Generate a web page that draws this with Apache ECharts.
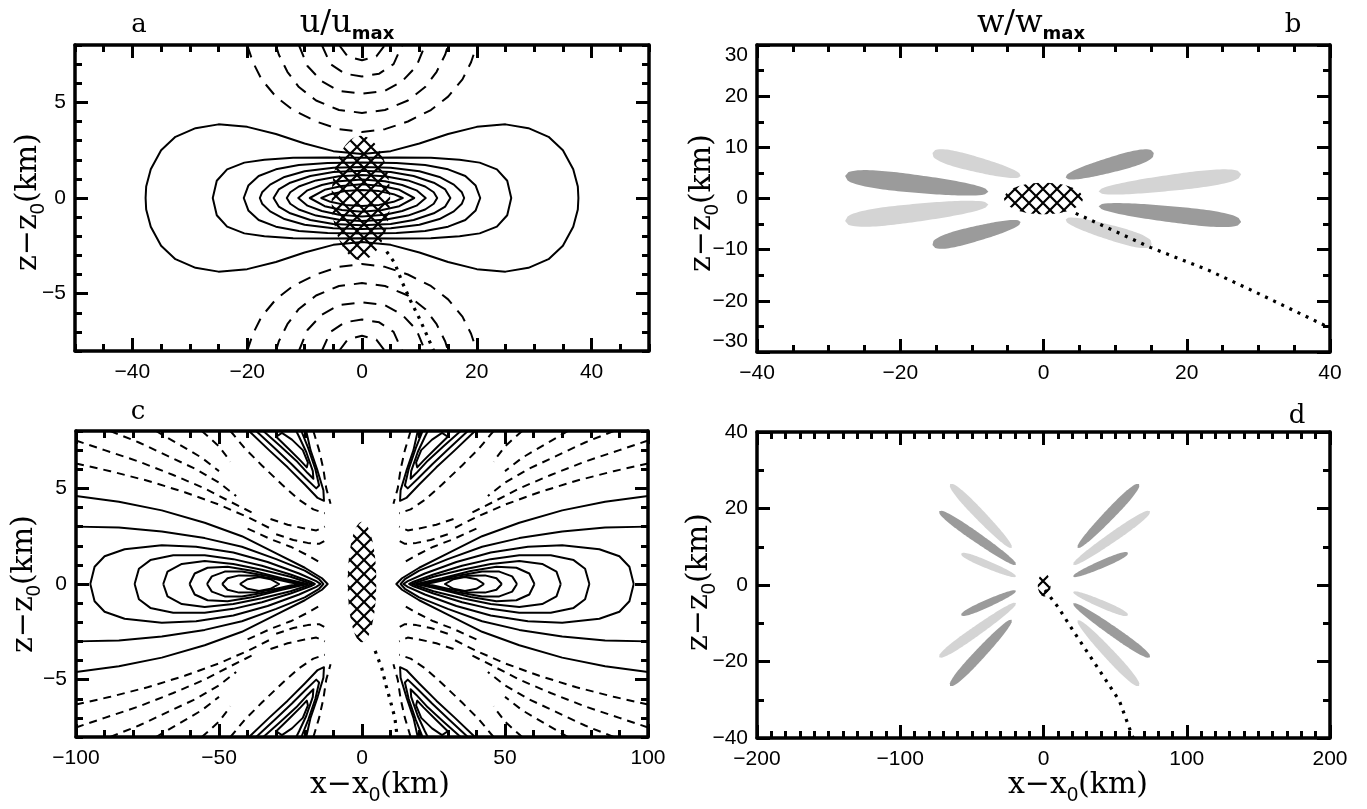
<!DOCTYPE html>
<html><head><meta charset="utf-8">
<script src="https://cdn.jsdelivr.net/npm/echarts@6/dist/echarts.min.js"></script>
<style>html,body{margin:0;padding:0;background:#fff}#c{width:1367px;height:809px}</style>
</head><body><div id="c"></div>
<script>
// ================= DATA =================
// tick values
const A_X_TICKS = [-40,-20,0,20,40];
const A_Y_TICKS = [-5,0,5];
const B_X_TICKS = [-40,-20,0,20,40];
const B_Y_TICKS = [-30,-20,-10,0,10,20,30];
const C_X_TICKS = [-100,-50,0,50,100];
const C_Y_TICKS = [-5,0,5];
const D_X_TICKS = [-200,-100,0,100,200];
const D_Y_TICKS = [-40,-20,0,20,40];

// panel a: positive contours (upper-right quadrant, x km, z km), symmetric
const A_POS = [
 [[0,2.3],[5,2.45],[10,2.85],[15,3.35],[20,3.72],[25,3.85],[29,3.65],[32.5,3.2],[35,2.5],[36.8,1.5],[37.6,0.6],[37.7,0]],
 [[0,2.1],[6,2.12],[12,2.1],[17,2.0],[20.5,1.85],[23.5,1.5],[25.3,0.9],[26,0]],
 [[0,1.85],[6,1.83],[11,1.72],[15,1.5],[18,1.15],[19.8,0.65],[20.6,0]],
 [[0,1.62],[5,1.58],[10,1.4],[13.5,1.1],[16,0.7],[17.4,0.3],[17.8,0]],
 [[0,1.42],[5,1.36],[9,1.15],[12.5,0.8],[14.5,0.45],[15.4,0]],
 [[0,1.2],[4,1.14],[8,0.92],[11,0.6],[12.5,0.3],[13.1,0]],
 [[0,0.97],[4,0.88],[7,0.68],[9.5,0.4],[11.1,0]],
 [[0,0.72],[3.5,0.63],[6.5,0.43],[9.1,0]],
 [[0,0.42],[3,0.36],[5.5,0.2],[7.1,0]]
];
// panel a: negative contours (right arm of upper U, mirrored)
const A_NEG = [
 [[0,3.45],[4,3.6],[8,4.0],[12,4.6],[15,5.3],[17.5,6.2],[19,7.1],[20,8]],
 [[0,4.45],[4,4.6],[8,5.1],[11,5.8],[13,6.6],[14.5,7.5],[15,8]],
 [[0,5.45],[4,5.6],[7,6.1],[9.5,6.9],[11,8]],
 [[0,6.35],[3,6.5],[5.5,7.0],[7,8]],
 [[0,7.2],[2.5,7.4],[4,8]]
];
const A_DOTS = [[4.3,-2.8],[5.7,-3.4],[7,-4.4],[8.5,-5.4],[10,-6.3],[11.2,-7.1],[12.5,-8]];
const A_HATCH = [[-0.2,0,5.1,3.25]];

// panel b: petals [x_inner, z_inner, x_outer, z_outer, width/length, dark(1)/light(0)]
const B_PETALS = [
 [3.1,4.1,15.4,8.9,0.2,1],
 [7.7,1.35,27.6,4.75,0.135,0],
 [7.7,-1.5,27.6,-4.6,0.135,1],
 [3.1,-4.1,15.1,-9.0,0.2,0],
 [-3.2,4.4,-15.5,8.9,0.2,0],
 [-7.7,1.3,-27.7,4.4,0.15,1],
 [-7.7,-1.15,-27.7,-4.4,0.15,0],
 [-3.2,-4.6,-15.5,-9.1,0.2,1]
];
const B_DOTS = [[4.5,-2.9],[15,-9.6],[23,-14],[29,-17.9],[40,-25.3]];
const B_HATCH = [[0,0,5.5,3.1]];

// panel c: left lobe positive contours (upper half, from left to tip), mirrored
const C_LOBE = [
 [[-100,4.6],[-85,4.3],[-70,3.85],[-55,3.2],[-42,2.5],[-30,1.6],[-20,0.85],[-14,0.3],[-12,0]],
 [[-100,3.0],[-85,2.95],[-70,2.75],[-55,2.4],[-42,1.95],[-30,1.3],[-20,0.7],[-15,0.25],[-13.5,0]],
 [[-95,0],[-93.5,0.9],[-90,1.45],[-83,1.82],[-70,2.02],[-58,1.95],[-45,1.65],[-33,1.15],[-22,0.55],[-16,0.15],[-14.5,0]],
 [[-79.5,0],[-78,0.8],[-74,1.25],[-66,1.5],[-55,1.5],[-45,1.3],[-35,0.95],[-25,0.5],[-18,0.12],[-16.5,0]],
 [[-69.5,0],[-68,0.65],[-63,1.05],[-55,1.2],[-45,1.05],[-35,0.75],[-25,0.38],[-19,0.08],[-17.5,0]],
 [[-60.3,0],[-58.5,0.55],[-54,0.85],[-47,0.9],[-38,0.68],[-28,0.3],[-20.5,0.05],[-19,0]],
 [[-54.2,0],[-52.5,0.4],[-48,0.65],[-42,0.65],[-34,0.45],[-26,0.18],[-20.5,0]],
 [[-48.9,0],[-47,0.3],[-43,0.45],[-37,0.43],[-30,0.25],[-25,0.08],[-22,0]],
 [[-42.7,0],[-40,0.25],[-36,0.37],[-32,0.25],[-29,0]]
];
// panel c: upper-left positive loops near the top edge, mirrored
const C_CORNER = [
 [[-39.5,8],[-32.5,7.0],[-26,6.1],[-20,5.2],[-15.5,4.5],[-13.3,4.35],[-13.5,4.9],[-15.5,5.9],[-18,7.0],[-19.5,8]],
 [[-37,8],[-30.5,7.1],[-24.5,6.25],[-19.5,5.5],[-16,5.0],[-15,5.15],[-16.3,6.0],[-18.8,7.1],[-21.2,8]],
 [[-34.5,8],[-28.5,7.2],[-23,6.45],[-19,5.8],[-17,5.5],[-17.2,5.9],[-19.5,6.9],[-22,7.7],[-23,8]],
 [[-30,7.7],[-25.5,7.05],[-21.5,6.45],[-19.3,6.1],[-18.9,6.35],[-20.7,7.0],[-24.5,7.55],[-28,7.9],[-30,7.7]]
];
// panel c: upper-left negative contours, mirrored
const C_NEG = [
 [[-100,6.3],[-88,5.9],[-75,5.4],[-62,4.8],[-50,4.15],[-40,3.5],[-32,2.9]],
 [[-100,7.5],[-90,7.0],[-78,6.4],[-66,5.7],[-55,5.0],[-46,4.3],[-38,3.7]],
 [[-88,8],[-78,7.4],[-68,6.7],[-58,6.0],[-50,5.3],[-44,4.6]],
 [[-72,8],[-64,7.3],[-56,6.6],[-50,5.9]],
 [[-56,8],[-50,7.2],[-46,6.4]],
 [[-46,8],[-41,7.1],[-35,6.2],[-28,5.2],[-22,4.4],[-17,3.9],[-13,3.7]],
 [[-32,3.4],[-26,3.1],[-20,2.9],[-16,2.8],[-13,3.0]],
 [[-30,2.6],[-24,2.3],[-19,2.15],[-15,2.1],[-12.5,2.3]],
 [[-40,2.9],[-32,2.35],[-25,1.95],[-19,1.5],[-15,1.15]],
 [[-17,8],[-15,7.0],[-13.5,6.0],[-12.5,5.0],[-11,4.2]]
];
const C_DOTS = [[4.6,-3.5],[6.9,-4.4],[8.4,-5.3],[9.9,-6.1],[11.5,-7.0],[12.3,-8]];
const C_HATCH = [[0,0.1,5,3.15]];

// panel d: petals
const D_PETALS = [
 [23.8,9.7,66.7,26.4,0.13,1],
 [20.7,5.3,74.4,19.3,0.115,0],
 [20.7,2.2,59,8.4,0.14,1],
 [20.7,-1.8,59,-7.9,0.14,0],
 [20.7,-4.8,74.4,-18.9,0.115,1],
 [23.8,-9.2,66.7,-26.4,0.13,0],
 [-22.2,9.7,-65.2,26.4,0.13,0],
 [-19.2,5.3,-72.9,19.3,0.115,1],
 [-19.2,2.2,-57.5,8.2,0.14,0],
 [-19.2,-1.5,-57.5,-7.9,0.14,1],
 [-19.2,-4.7,-72.9,-18.9,0.115,0],
 [-22.2,-9.1,-65.2,-26.4,0.13,1]
];
const D_DOTS = [[1,-1.3],[10,-5.7],[22,-12.7],[37.6,-21.5],[53,-30.3],[62,-39.5],[62.7,-40]];
const D_HATCH = [[0.5,0,4.5,3]];

// ================= BUILD =================
const DARK = '#9b9b9b', LIGHT = '#d4d4d4';
const mx = p => [-p[0], p[1]], my = p => [p[0], -p[1]], mxy = p => [-p[0], -p[1]];
const rev = a => a.slice().reverse();
function quadLoop(q){ const r = rev(q); return [...q, ...r.map(my), ...q.map(mxy), ...r.map(mx)]; }
function uShape(arm){ return [...rev(arm).map(mx), ...arm]; }
function halfLoop(h){ return [...h, ...rev(h).map(my)]; }

// hatch pattern
const HP = 14;
const hc = document.createElement('canvas'); hc.width = HP; hc.height = HP;
const hx = hc.getContext('2d');
hx.strokeStyle = '#000'; hx.lineWidth = 2.2;
hx.beginPath(); hx.moveTo(-2,-2); hx.lineTo(HP+2,HP+2); hx.moveTo(HP+2,-2); hx.lineTo(-2,HP+2); hx.stroke();
const HATCH_FILL = {image: hc, repeat: 'repeat'};

function fmt(v){ return v < 0 ? '\u2212' + Math.abs(v) : String(v); }
function steps(a, b, s){ const r = []; for (let v = a; v <= b + 1e-9; v += s) r.push(Math.round(v * 1000) / 1000); return r; }

const xAxes = [], yAxes = [];
function makeAxes(list, gi, dim, min, max, major, minorStep, extraLabel){
  const minor = steps(min, max, minorStep).filter(v => !major.includes(v));
  const pos = dim === 'x' ? ['bottom','top'] : ['left','right'];
  pos.forEach((p, pi) => {
    list.push({type:'value', gridIndex:gi, position:p, min, max,
      axisLine:{show:true, onZero:false, lineStyle:{color:'#000', width:3.5}},
      axisTick:{show:true, inside:true, length:13, customValues:major, lineStyle:{color:'#000', width:3}},
      axisLabel:Object.assign({show: pi === 0, customValues: major, formatter: fmt, color:'#000',
        fontFamily:'Liberation Sans', fontSize:21, margin: dim === 'x' ? 11 : 9}, extraLabel || {}),
      splitLine:{show:false}});
    list.push({type:'value', gridIndex:gi, position:p, min, max,
      axisLine:{show:false, onZero:false},
      axisTick:{show:true, inside:true, length:7, customValues:minor, lineStyle:{color:'#000', width:3}},
      axisLabel:{show:false}, splitLine:{show:false}});
  });
}
makeAxes(xAxes, 0, 'x', -50, 50, A_X_TICKS, 5);
makeAxes(yAxes, 0, 'y', -8, 8, A_Y_TICKS, 1);
makeAxes(xAxes, 1, 'x', -40, 40, B_X_TICKS, 5);
makeAxes(yAxes, 1, 'y', -30, 30, B_Y_TICKS, 5, {verticalAlignMinLabel:'bottom', verticalAlignMaxLabel:'top'});
makeAxes(xAxes, 2, 'x', -100, 100, C_X_TICKS, 10);
makeAxes(yAxes, 2, 'y', -8, 8, C_Y_TICKS, 1);
makeAxes(xAxes, 3, 'x', -200, 200, D_X_TICKS, 10);
makeAxes(yAxes, 3, 'y', -40, 40, D_Y_TICKS, 10);

const series = [];
function line(gi, pts, type, width, z){
  series.push({type:'line', xAxisIndex:4*gi, yAxisIndex:4*gi, data:pts, showSymbol:false, symbol:'none',
    silent:true, clip:true, z: z || 2,
    lineStyle:{color:'#000', width: width || 2, type: type || 'solid', cap:'butt', join:'round'}});
}
function hatch(gi, data){
  series.push({type:'custom', xAxisIndex:4*gi, yAxisIndex:4*gi, data, clip:true, silent:true, z:3,
    renderItem:(params, api) => {
      const cx = api.value(0), cy = api.value(1), rx = api.value(2), ry = api.value(3);
      const pts = [];
      for (let k = 0; k < 72; k++){ const t = 2*Math.PI*k/72; pts.push(api.coord([cx + rx*Math.cos(t), cy + ry*Math.sin(t)])); }
      return {type:'polygon', shape:{points:pts}, style:{fill:HATCH_FILL, stroke:null}};
    }});
}
function petals(gi, data, pw, taper){
  series.push({type:'custom', xAxisIndex:4*gi, yAxisIndex:4*gi, data, clip:true, silent:true, z:1,
    renderItem:(params, api) => {
      const a = api.coord([api.value(0), api.value(1)]), b = api.coord([api.value(2), api.value(3)]);
      const asp = api.value(4), shade = api.value(5);
      const dx = b[0]-a[0], dy = b[1]-a[1], len = Math.hypot(dx, dy);
      const ux = dx/len, uy = dy/len, nx = -uy, ny = ux, W = asp*len/2;
      const up = [], dn = [], N = 48;
      for (let i = 0; i <= N; i++){
        const s = i/N, t = 2*s - 1;
        const h = W * Math.pow(Math.max(0, 1 - Math.pow(Math.abs(t), pw)), 1/pw) * ((1 - taper) + taper*s);
        const px = a[0] + ux*len*s, py = a[1] + uy*len*s;
        up.push([px + nx*h, py + ny*h]); dn.push([px - nx*h, py - ny*h]);
      }
      return {type:'polygon', shape:{points: up.concat(dn.reverse())}, style:{fill: shade ? DARK : LIGHT, stroke:null}};
    }});
}

// panel a
A_POS.forEach(q => line(0, quadLoop(q), 'solid', 2));
A_NEG.forEach(arm => { const u = uShape(arm); line(0, u, [13,9], 2); line(0, u.map(my), [13,9], 2); });
hatch(0, A_HATCH);
line(0, A_DOTS, [3,6], 3.2, 4);

// panel b
petals(1, B_PETALS, 2.5, 0.35);
hatch(1, B_HATCH);
line(1, B_DOTS, [3,6], 3.2, 4);

// panel c
C_LOBE.forEach(h => { const l = halfLoop(h); line(2, l, 'solid', 2); line(2, l.map(mx), 'solid', 2); });
C_CORNER.forEach(c => { [c, c.map(my), c.map(mx), c.map(mxy)].forEach(v => line(2, v, 'solid', 2)); });
C_NEG.forEach(c => { [c, c.map(my), c.map(mx), c.map(mxy)].forEach(v => line(2, v, [8,6], 2)); });
hatch(2, C_HATCH);
line(2, C_DOTS, [3,6], 3.2, 4);

// panel d
petals(3, D_PETALS, 2.3, 0.2);
hatch(3, D_HATCH);
line(3, D_DOTS, [3,6], 3.2, 4);

// ================= TEXT =================
const MAIN = '30px "DejaVu Serif"', SUBF = '20px "Liberation Sans"';
const TMAIN = '32px "DejaVu Serif"', MAXF = 'bold 18px "DejaVu Sans"';
const mctx = document.createElement('canvas').getContext('2d');
function tw(t, f){ mctx.font = f; return mctx.measureText(t).width; }
// parts: [text, font, size, baselineShift]
function label(parts, x, y, rot, baseOff){
  let total = 0; parts.forEach(p => total += tw(p[0], p[1]));
  let cx = -total/2; const children = [];
  parts.forEach(p => {
    children.push({type:'text', x:cx, y:(baseOff||0) + p[3] - 0.3*p[2],
      style:{text:p[0], font:p[1], fill:'#000', align:'left', verticalAlign:'middle'}});
    cx += tw(p[0], p[1]);
  });
  return {type:'group', x, y, rotation: rot || 0, children, silent:true};
}
const zTitle = [['z\u2212z', MAIN, 30, 0], ['0', SUBF, 20, 7], ['(km)', MAIN, 30, 0]];
const xTitle = [['x\u2212x', MAIN, 30, 0], ['0', SUBF, 20, 7], ['(km)', MAIN, 30, 0]];
const LET = '26px "DejaVu Serif"';
const graphic = [
  label(zTitle, 28, 202, Math.PI/2, 9),
  label(zTitle, 702, 203, Math.PI/2, 9),
  label(zTitle, 24, 584, Math.PI/2, 9),
  label(zTitle, 699, 582, Math.PI/2, 9),
  label(xTitle, 380, 794, 0, 0),
  label(xTitle, 1078, 794, 0, 0),
  label([['u/u', TMAIN, 32, 0], ['max', MAXF, 18, 7]], 347, 33, 0, 0),
  label([['w/w', TMAIN, 32, 0], ['max', MAXF, 18, 7]], 1031, 33, 0, 0),
  label([['a', LET, 26, 0]], 139, 33, 0, 0),
  label([['b', LET, 26, 0]], 1293, 33, 0, 0),
  label([['c', LET, 26, 0]], 138, 420, 0, 0),
  label([['d', LET, 26, 0]], 1297, 424, 0, 0)
];

const chart = echarts.init(document.getElementById('c'), null, {renderer:'canvas'});
chart.setOption({
  animation:false,
  backgroundColor:'#fff',
  grid:[
    {left:75, top:45, width:574, height:306, outerBoundsMode:'none'},
    {left:757, top:45, width:573, height:307, outerBoundsMode:'none'},
    {left:76, top:431, width:572, height:306, outerBoundsMode:'none'},
    {left:757, top:432, width:573, height:306, outerBoundsMode:'none'}
  ],
  xAxis:xAxes, yAxis:yAxes, series, graphic
});
</script>
</body></html>
